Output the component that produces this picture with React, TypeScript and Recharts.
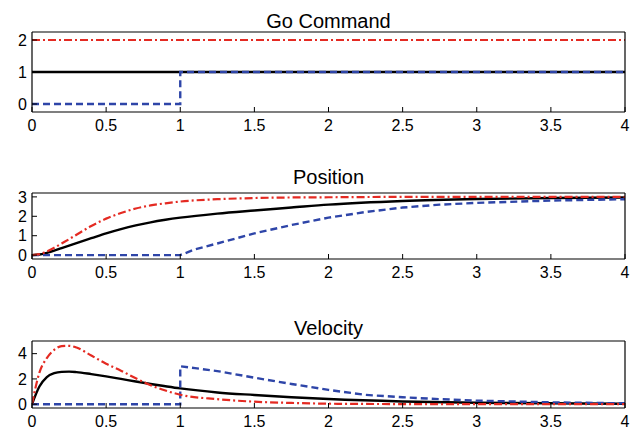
import React from 'react';
import { LineChart, Line, XAxis, YAxis } from 'recharts';

const FONT = '"Liberation Sans", Arial, Helvetica, sans-serif';
const RED = '#e42a22';
const BLUE = '#2e45a8';

const X_TICKS = [0, 0.5, 1, 1.5, 2, 2.5, 3, 3.5, 4];

// Go command: step signals
const GO_T = [0, 1, 1, 4];
const GO_BLACK = [1, 1, 1, 1];
const GO_RED = [2, 2, 2, 2];
const GO_BLUE = [0, 0, 1, 1];

// sample times for the black and red curves
const T = [0, 0.05, 0.1, 0.15, 0.2, 0.25, 0.3, 0.4, 0.5, 0.6, 0.7, 0.8, 0.9, 1.0, 1.25, 1.5, 1.75, 2.0, 2.5, 3.0, 3.5, 4.0];
const POS_BLACK = [0, 0.03, 0.12, 0.23, 0.36, 0.49, 0.62, 0.87, 1.12, 1.34, 1.53, 1.69, 1.82, 1.93, 2.14, 2.3, 2.45, 2.6, 2.79, 2.89, 2.94, 2.97];
const POS_RED = [0, 0.05, 0.19, 0.38, 0.6, 0.82, 1.05, 1.5, 1.88, 2.17, 2.4, 2.56, 2.67, 2.76, 2.88, 2.94, 2.97, 2.98, 3.0, 3.0, 3.0, 3.0];
const VEL_BLACK = [0, 1.4, 2.15, 2.45, 2.56, 2.58, 2.54, 2.38, 2.2, 2.0, 1.8, 1.6, 1.42, 1.25, 0.93, 0.73, 0.55, 0.41, 0.22, 0.12, 0.07, 0.04];
const VEL_RED = [0, 2.5, 3.65, 4.3, 4.6, 4.62, 4.48, 3.85, 3.2, 2.65, 2.05, 1.5, 1.08, 0.75, 0.4, 0.2, 0.1, 0.04, 0.01, 0, 0, 0];

// blue curve starts at t = 1
const BLUE_T = [0, 1, 1, 1.1, 1.25, 1.5, 1.75, 2, 2.25, 2.5, 2.75, 3, 3.5, 4];
const POS_BLUE = [0, 0, 0, 0.3, 0.6, 1.12, 1.55, 1.93, 2.22, 2.45, 2.6, 2.69, 2.81, 2.88];
const VEL_BLUE = [0, 0, 3.0, 2.85, 2.62, 2.1, 1.6, 1.13, 0.74, 0.55, 0.4, 0.28, 0.15, 0.07];

type Pt = { t: number; v: number };
const zip = (ts: number[], vs: number[]): Pt[] => ts.map((t, i) => ({ t, v: vs[i] }));

const axisStyle = { stroke: '#000', strokeWidth: 1.2 };
const tickLineStyle = { stroke: '#000', strokeWidth: 1 };
const tickText = { fill: '#000', fontSize: 16, fontFamily: FONT };

const PAD = 10; // room above the plot so the top tick label is not clipped

interface PanelProps {
  title: string;
  top: number;
  titleTop: number;
  plotHeight: number;
  domain: [number, number];
  yTicks: number[];
  black: Pt[];
  red: Pt[];
  blue: Pt[];
  smooth: boolean;
}

const Panel: React.FC<PanelProps> = ({ title, top, titleTop, plotHeight, domain, yTicks, black, red, blue, smooth }) => {
  const curve = smooth ? 'monotone' : 'linear';
  return (
    <>
      <div
        style={{
          position: 'absolute', left: 32, width: 593, top: titleTop, textAlign: 'center',
          fontFamily: FONT, fontSize: 20, lineHeight: '20px', color: '#000',
        }}
      >
        {title}
      </div>
      <div style={{ position: 'absolute', left: 0, top: top - PAD }}>
        <LineChart width={632} height={PAD + plotHeight + 24} margin={{ top: PAD - 1, right: 6, bottom: 0, left: 0 }}>
          <XAxis xAxisId="b" type="number" dataKey="t" domain={[0, 4]} ticks={X_TICKS} interval={0}
            allowDataOverflow tickSize={-5} tickMargin={13} height={24}
            axisLine={axisStyle} tickLine={tickLineStyle} tick={tickText} />
          <XAxis xAxisId="top" orientation="top" type="number" dataKey="t" domain={[0, 4]} ticks={X_TICKS} interval={0}
            allowDataOverflow tickSize={-5} height={1}
            axisLine={axisStyle} tickLine={tickLineStyle} tick={false} />
          <YAxis yAxisId="l" type="number" domain={domain} ticks={yTicks} interval={0}
            allowDataOverflow tickSize={-5} tickMargin={10} width={32}
            axisLine={axisStyle} tickLine={tickLineStyle} tick={tickText} />
          <YAxis yAxisId="r" orientation="right" type="number" domain={domain} ticks={yTicks} interval={0}
            allowDataOverflow tickSize={-5} width={1}
            axisLine={axisStyle} tickLine={tickLineStyle} tick={false} />
          {/* black series sits on the top/right axes (same scales) so the frame gets drawn */}
          <Line xAxisId="top" yAxisId="r" data={black} dataKey="v" type={curve} stroke="#000"
            strokeWidth={2.4} dot={false} activeDot={false} isAnimationActive={false} />
          <Line xAxisId="b" yAxisId="l" data={blue} dataKey="v" type="linear" stroke={BLUE}
            strokeWidth={2.4} strokeDasharray="7 4" dot={false} activeDot={false} isAnimationActive={false} />
          <Line xAxisId="b" yAxisId="l" data={red} dataKey="v" type={curve} stroke={RED}
            strokeWidth={2.2} strokeDasharray="8 3 2 3" dot={false} activeDot={false} isAnimationActive={false} />
        </LineChart>
      </div>
    </>
  );
};

export default function App() {
  return (
    <div style={{ position: 'absolute', left: 0, top: 0, width: 632, height: 432, background: '#fff' }}>
      <Panel title="Go Command" top={32} titleTop={10.5} plotHeight={80} domain={[-0.25, 2.25]} yTicks={[0, 1, 2]}
        black={zip(GO_T, GO_BLACK)} red={zip(GO_T, GO_RED)} blue={zip(GO_T, GO_BLUE)} smooth={false} />
      <Panel title="Position" top={193} titleTop={167} plotHeight={66} domain={[-0.2, 3.2]} yTicks={[0, 1, 2, 3]}
        black={zip(T, POS_BLACK)} red={zip(T, POS_RED)} blue={zip(BLUE_T, POS_BLUE)} smooth />
      <Panel title="Velocity" top={341} titleTop={318} plotHeight={67} domain={[-0.3, 5]} yTicks={[0, 2, 4]}
        black={zip(T, VEL_BLACK)} red={zip(T, VEL_RED)} blue={zip(BLUE_T, VEL_BLUE)} smooth />
    </div>
  );
}
